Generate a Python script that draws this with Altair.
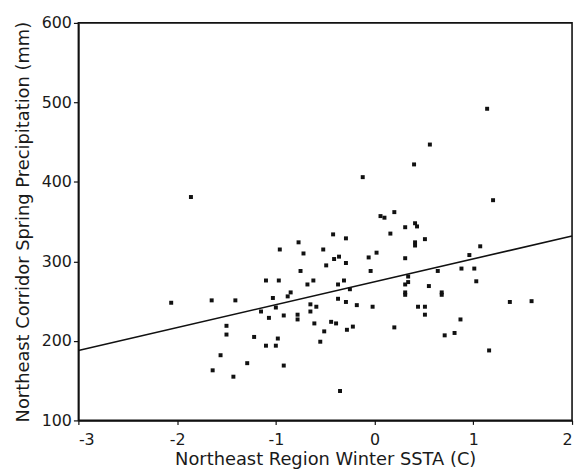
import altair as alt
import pandas as pd

# Northeast Region Winter SSTA (C)
sst = [-1.86, -2.06, -1.65, -1.41, -1.50, -1.50, -1.56, -1.64, -1.43, -1.29,
       -1.22, -1.10, -0.97, -0.96, -1.03, -1.15, -1.07, -1.00, -0.92, -1.10,
       -1.00, -0.98, -0.92, -0.85, -0.88, -0.77, -0.72, -0.52, -0.42, -0.29,
       -0.36, -0.41, -0.49, -0.29, -0.75, -0.68, -0.62, -0.37, -0.31, -0.25,
       -0.78, -0.78, -0.65, -0.59, -0.65, -0.37, -0.29, -0.18, -0.61, -0.44,
       -0.39, -0.51, -0.28, -0.22, -0.55, -0.35, -0.12, 1.14, 0.56, 0.40,
       0.06, 0.10, 0.20, 0.31, 0.41, 0.43, 0.16, 0.41, 0.41, 0.51,
       0.02, -0.06, 0.31, 0.96, 1.07, 1.20, -0.04, 0.64, 0.88, 1.01,
       1.03, 0.34, 0.34, 0.31, 0.31, 0.31, 0.55, 0.68, 0.68, -0.02,
       0.44, 0.51, 0.51, 1.37, 1.59, 0.87, 0.20, 0.71, 0.81, 1.16]

# Northeast Corridor Spring Precipitation (mm)
precip = [381, 248, 251, 251, 219, 208, 182, 163, 155, 172,
          205, 276, 276, 315, 254, 237, 229, 242, 232, 194,
          194, 203, 169, 261, 256, 324, 310, 315, 334, 329,
          306, 303, 295, 298, 288, 271, 276, 271, 276, 265,
          233, 227, 246, 243, 237, 253, 249, 245, 222, 224,
          222, 212, 214, 218, 199, 137, 406, 492, 447, 422,
          357, 355, 362, 343, 348, 344, 335, 324, 320, 328,
          311, 305, 304, 308, 319, 377, 288, 288, 291, 291,
          275, 281, 274, 271, 261, 258, 269, 261, 258, 243,
          243, 243, 233, 249, 250, 227, 217, 207, 210, 188]

# fitted line, read at the axis ends
fit_sst = [-3, 2]
fit_precip = [188, 332]

x_ticks = [-3, -2, -1, 0, 1, 2]
y_ticks = [100, 200, 300, 400, 500, 600]

pts = pd.DataFrame({"sst": sst, "precip": precip})
fit = pd.DataFrame({"sst": fit_sst, "precip": fit_precip})

xscale = alt.Scale(domain=[-3, 2], nice=False, zero=False)
yscale = alt.Scale(domain=[100, 600], nice=False, zero=False)

hyphen_label = "datum.value < 0 ? '-' + abs(datum.value) : '' + datum.value"

xaxis = alt.Axis(title="Northeast Region Winter SSTA (C)", values=x_ticks,
                 tickSize=4, labelPadding=7, titlePadding=3,
                 labelExpr=hyphen_label)
yaxis = alt.Axis(title="Northeast Corridor Spring Precipitation (mm)", values=y_ticks,
                 tickSize=5, labelPadding=2, titlePadding=9,
                 labelExpr=hyphen_label)

points = alt.Chart(pts).mark_square(size=16, color="#111111", opacity=1).encode(
    x=alt.X("sst:Q", scale=xscale, axis=xaxis),
    y=alt.Y("precip:Q", scale=yscale, axis=yaxis),
)

line = alt.Chart(fit).mark_line(color="#111111", strokeWidth=1.6).encode(
    x=alt.X("sst:Q", scale=xscale),
    y=alt.Y("precip:Q", scale=yscale),
)

chart = (points + line).properties(
    width=498,
    height=401,
    autosize=alt.AutoSizeParams(type="none"),
    padding={"left": 71, "top": 13, "right": 5, "bottom": 50},
    background="white",
).configure_view(
    stroke="#111111", strokeWidth=1.6
).configure_axis(
    grid=False,
    domainColor="#111111", domainWidth=1.6,
    tickColor="#111111", tickWidth=1.2,
    labelFont="DejaVu Sans", labelFontSize=16, labelColor="#1a1a1a",
    titleFont="DejaVu Sans", titleFontSize=18, titleFontWeight="normal",
    titleColor="#1a1a1a",
)

chart.save("out.html", embed_options={"renderer": "svg", "actions": False})
